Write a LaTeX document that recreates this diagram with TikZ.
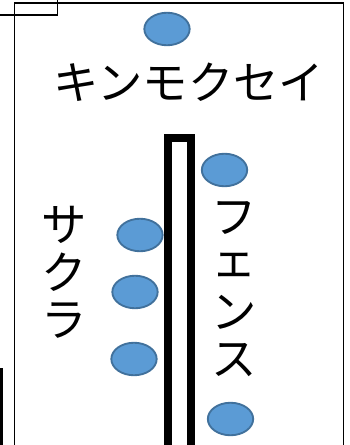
\documentclass[tikz,border=0pt]{standalone}
\usepackage{fontspec}
\newfontfamily\jp{Noto Sans CJK JP}
\usetikzlibrary{shapes.geometric}
\definecolor{treeblue}{HTML}{5B9BD5}
\definecolor{treeline}{HTML}{41719C}
\begin{document}
\begin{tikzpicture}[x=0.75pt,y=-0.75pt,
		tree/.style={ellipse,draw=treeline,fill=treeblue,line width=1.4pt,minimum width=34pt,minimum height=24.4pt,inner sep=0pt},
		word/.style={font={\jp\fontsize{34pt}{35.5pt}\selectfont},inner sep=0pt,align=center}]
		\useasboundingbox (0,0) rectangle (349,445);
		% garden frame and neighbouring plots
		\draw[line width=1.3pt] (14.5,3) rectangle (343.5,480);
		\draw[line width=1.3pt] (-20,-20) rectangle (57.5,14.7);
		\draw[line width=1.5pt] (-30,369) rectangle (1.5,480);
		% fence
		\draw[line width=6pt] (167.5,138.5) rectangle (191,480);
		% trees
		\node [tree] (k) at (167,29) {};
		\node [tree] (f1) at (224.5,170) {};
		\node [tree] (f2) at (230.5,419) {};
		\node [tree] (s1) at (140,235) {};
		\node [tree] (s2) at (135,292) {};
		\node [tree] (s3) at (134,359) {};
		% names
		\node [word] (kinmokusei) at (189,82) {キンモクセイ};
		\node [word] (sakura) at (64,272.5) {サ\\ク\\ラ};
		\node [word] (fence) at (234,289) {フ\\\raisebox{0.1em}{ェ}\\ン\\ス};
	\end{tikzpicture}
\end{document}
